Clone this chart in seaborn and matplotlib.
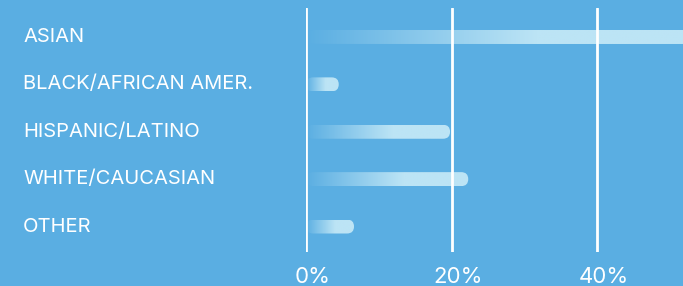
import numpy as np
import pandas as pd
import matplotlib
matplotlib.use("Agg")
import matplotlib.pyplot as plt
from matplotlib.patches import FancyBboxPatch
from matplotlib.colors import LinearSegmentedColormap
import matplotlib.transforms as mtransforms
import seaborn as sns

# data
groups = ["ASIAN", "BLACK/AFRICAN AMER.", "HISPANIC/LATINO", "WHITE/CAUCASIAN", "OTHER"]
shares = [53.0, 4.5, 19.8, 22.3, 6.6]
tick_values = [0, 20, 40]
tick_labels = ["0%", "20%", "40%"]

BG = "#5aaee2"
BAR = "#bce4f5"

sns.set_theme(style="white")
plt.rcParams["font.family"] = ["Inter", "DejaVu Sans"]

df = pd.DataFrame({"group": groups, "share": shares})

fig = plt.figure(figsize=(6.83, 2.86), dpi=100, facecolor=BG)
ax = fig.add_axes([306 / 683, 34 / 286, 377 / 683, 244 / 286])
ax.set_facecolor(BG)

px_per_x = 145.5 / 20
px_per_y = 47.4
xlim = (0, 377 / px_per_x)
ylim = (4 + 25.5 / px_per_y, -29 / px_per_y)

sns.barplot(data=df, x="share", y="group", orient="h", width=14 / px_per_y, ax=ax)

# fade from background to light blue across the left part of each bar
cmap = LinearSegmentedColormap.from_list("fade", [BG, BAR])
ramp = np.clip(np.linspace(0, 1, 256) / 0.6, 0, 1)[None, :]

r = 7 / px_per_x
aspect = (7 / px_per_y) / r

for bar in list(ax.patches):
    x0, y0 = bar.get_x(), bar.get_y()
    w, h = bar.get_width(), bar.get_height()
    bar.set_visible(False)
    shape = FancyBboxPatch((x0, y0), w, h,
                           boxstyle=f"round,pad=0,rounding_size={r}",
                           mutation_aspect=aspect, facecolor="none",
                           edgecolor="none")
    ax.add_patch(shape)
    img = ax.imshow(ramp, cmap=cmap, vmin=0, vmax=1, aspect="auto",
                    extent=(x0, x0 + w, y0 + h, y0), zorder=2,
                    interpolation="bilinear")
    img.set_clip_path(shape)

ax.set_xlim(*xlim)
ax.set_ylim(*ylim)

for v in tick_values:
    ax.axvline(v, color="white", lw=2, zorder=3)

ax.set_xticks(tick_values)
ax.set_xticklabels(tick_labels, color="white", fontsize=16)
ax.tick_params(axis="x", length=0, pad=11)
shift = mtransforms.ScaledTranslation(7 / 100, 0, fig.dpi_scale_trans)
for lab in ax.get_xticklabels():
    lab.set_transform(lab.get_transform() + shift)
ax.set_yticks([])
ax.set_xlabel("")
ax.set_ylabel("")
for s in ax.spines.values():
    s.set_visible(False)

trans = mtransforms.blended_transform_factory(fig.transFigure, ax.transData)
for i, g in enumerate(groups):
    ax.text(23 / 683, i, g, transform=trans, color="white",
            fontsize=14.5, ha="left", va="center")

fig.savefig("out.png", dpi=100, facecolor=BG)
